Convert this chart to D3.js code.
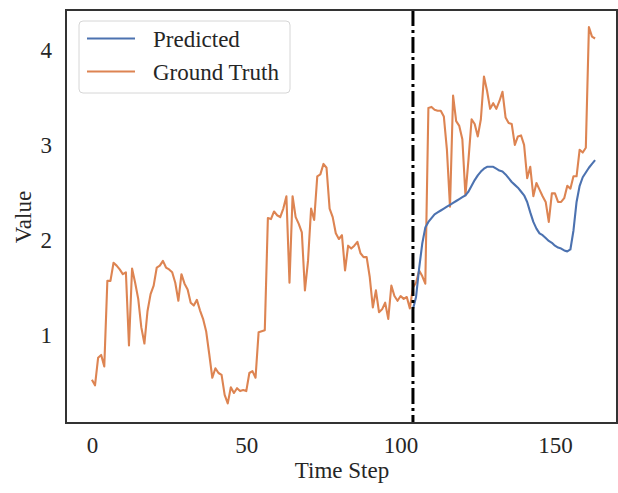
<!DOCTYPE html>
<html><head><meta charset="utf-8">
<script src="https://cdn.jsdelivr.net/npm/d3@7"></script>
<style>body{margin:0;background:#fff;}svg{display:block;}</style>
</head><body>
<svg id="c" width="618" height="493"></svg>
<script>
const groundTruth = [0.53,0.47,0.76,0.79,0.67,1.57,1.57,1.76,1.73,1.69,
1.64,1.66,0.89,1.70,1.55,1.38,1.08,0.91,1.25,1.43,
1.52,1.71,1.73,1.78,1.71,1.69,1.66,1.55,1.36,1.64,
1.54,1.48,1.34,1.31,1.37,1.26,1.17,1.04,0.80,0.55,
0.65,0.60,0.58,0.37,0.28,0.45,0.39,0.44,0.41,0.42,
0.41,0.60,0.62,0.55,1.03,1.04,1.05,2.23,2.22,2.30,
2.26,2.24,2.33,2.46,1.55,2.46,2.24,2.17,2.08,1.47,
1.78,2.33,2.21,2.67,2.69,2.80,2.76,2.33,2.24,2.07,
2.01,2.05,1.68,1.94,1.91,1.94,1.98,1.86,1.82,1.82,
1.61,1.29,1.47,1.24,1.27,1.34,1.17,1.52,1.41,1.36,
1.41,1.38,1.40,1.28,1.50,1.55,1.68,1.62,1.54,3.39,
3.40,3.37,3.36,3.36,3.30,2.95,2.35,3.52,3.25,3.20,
3.06,2.47,2.85,3.27,3.22,3.09,3.27,3.72,3.57,3.38,
3.44,3.38,3.46,3.56,3.29,3.23,3.22,3.00,3.09,3.10,
3.00,2.65,2.77,2.46,2.60,2.53,2.46,2.40,2.19,2.49,
2.49,2.40,2.40,2.44,2.57,2.54,2.67,2.67,2.95,2.92,
2.97,4.24,4.14,4.12];
const predictedStart = 104;
const predicted = [1.27,1.40,1.70,1.96,2.13,2.19,2.23,2.27,2.29,2.31,
2.33,2.35,2.37,2.39,2.41,2.43,2.45,2.47,2.51,2.57,
2.63,2.68,2.72,2.75,2.77,2.77,2.77,2.75,2.73,2.72,
2.69,2.65,2.61,2.58,2.55,2.51,2.47,2.40,2.29,2.19,
2.12,2.07,2.05,2.02,1.99,1.97,1.94,1.92,1.91,1.89,
1.88,1.90,2.10,2.40,2.57,2.66,2.71,2.76,2.80,2.84];
const xTicks = [0,50,100,150];
const yTicks = [1,2,3,4];
const seriesNames = ["Predicted","Ground Truth"];
const seriesColors = ["#4c72b0","#dd8452"];

const svg = d3.select("#c");
const L=66,T=10,R=617,B=423;
const x = d3.scaleLinear().domain([-8.4,170.1]).range([L,R]);
const y = d3.scaleLinear().domain([0.074,4.42]).range([B,T]);
const font = "'Liberation Serif','Times New Roman',serif";
const tc = "#262626";

const line = d3.line().x(d=>x(d[0])).y(d=>y(d[1]));
const gtData = groundTruth.map((v,i)=>[i,v]);
const prData = predicted.map((v,i)=>[i+predictedStart,v]);

svg.append("path").datum(gtData).attr("d",line).attr("fill","none")
  .attr("stroke",seriesColors[1]).attr("stroke-width",2.1).attr("stroke-linejoin","round");
svg.append("path").datum(prData).attr("d",line).attr("fill","none")
  .attr("stroke",seriesColors[0]).attr("stroke-width",2.1).attr("stroke-linejoin","round");

svg.append("line").attr("x1",x(predictedStart)).attr("x2",x(predictedStart))
  .attr("y1",T).attr("y2",B).attr("stroke","#000").attr("stroke-width",3)
  .attr("stroke-dasharray","16,4,3,4");

svg.append("rect").attr("x",L).attr("y",T).attr("width",R-L).attr("height",B-T)
  .attr("fill","none").attr("stroke","#333").attr("stroke-width",2);

// axes
const xAxis = d3.axisBottom(x).tickValues(xTicks).tickFormat(d3.format("d")).tickSize(0).tickPadding(0);
const gx = svg.append("g").attr("transform",`translate(0,${B})`).call(xAxis);
gx.select(".domain").remove();
gx.selectAll("text").attr("dy",null).attr("y",30).attr("font-family",font).attr("font-size",23).attr("fill",tc);

const yAxis = d3.axisLeft(y).tickValues(yTicks).tickFormat(d3.format("d")).tickSize(0).tickPadding(0);
const gy = svg.append("g").attr("transform",`translate(${L},0)`).call(yAxis);
gy.select(".domain").remove();
gy.selectAll("text").attr("x",-14).attr("dy","0.34em").attr("font-family",font).attr("font-size",23).attr("fill",tc);

svg.append("text").attr("x",342).attr("y",478).attr("text-anchor","middle")
  .attr("font-family",font).attr("font-size",23).attr("fill",tc).text("Time Step");
svg.append("text").attr("transform","translate(31,217) rotate(-90)").attr("text-anchor","middle")
  .attr("font-family",font).attr("font-size",23).attr("fill",tc).text("Value");

// legend
const lg = svg.append("g");
lg.append("rect").attr("x",79).attr("y",21).attr("width",211).attr("height",72).attr("rx",4)
  .attr("fill","#fff").attr("fill-opacity",0.8).attr("stroke","#d6d6d6").attr("stroke-width",1);
seriesNames.forEach((n,k)=>{
  const yy = 38.5 + k*33;
  lg.append("line").attr("x1",87).attr("x2",135).attr("y1",yy).attr("y2",yy)
    .attr("stroke",seriesColors[k]).attr("stroke-width",2);
  lg.append("text").attr("x",153).attr("y",yy+8).attr("font-family",font).attr("font-size",23)
    .attr("fill",tc).text(n);
});
</script>
</body></html>
